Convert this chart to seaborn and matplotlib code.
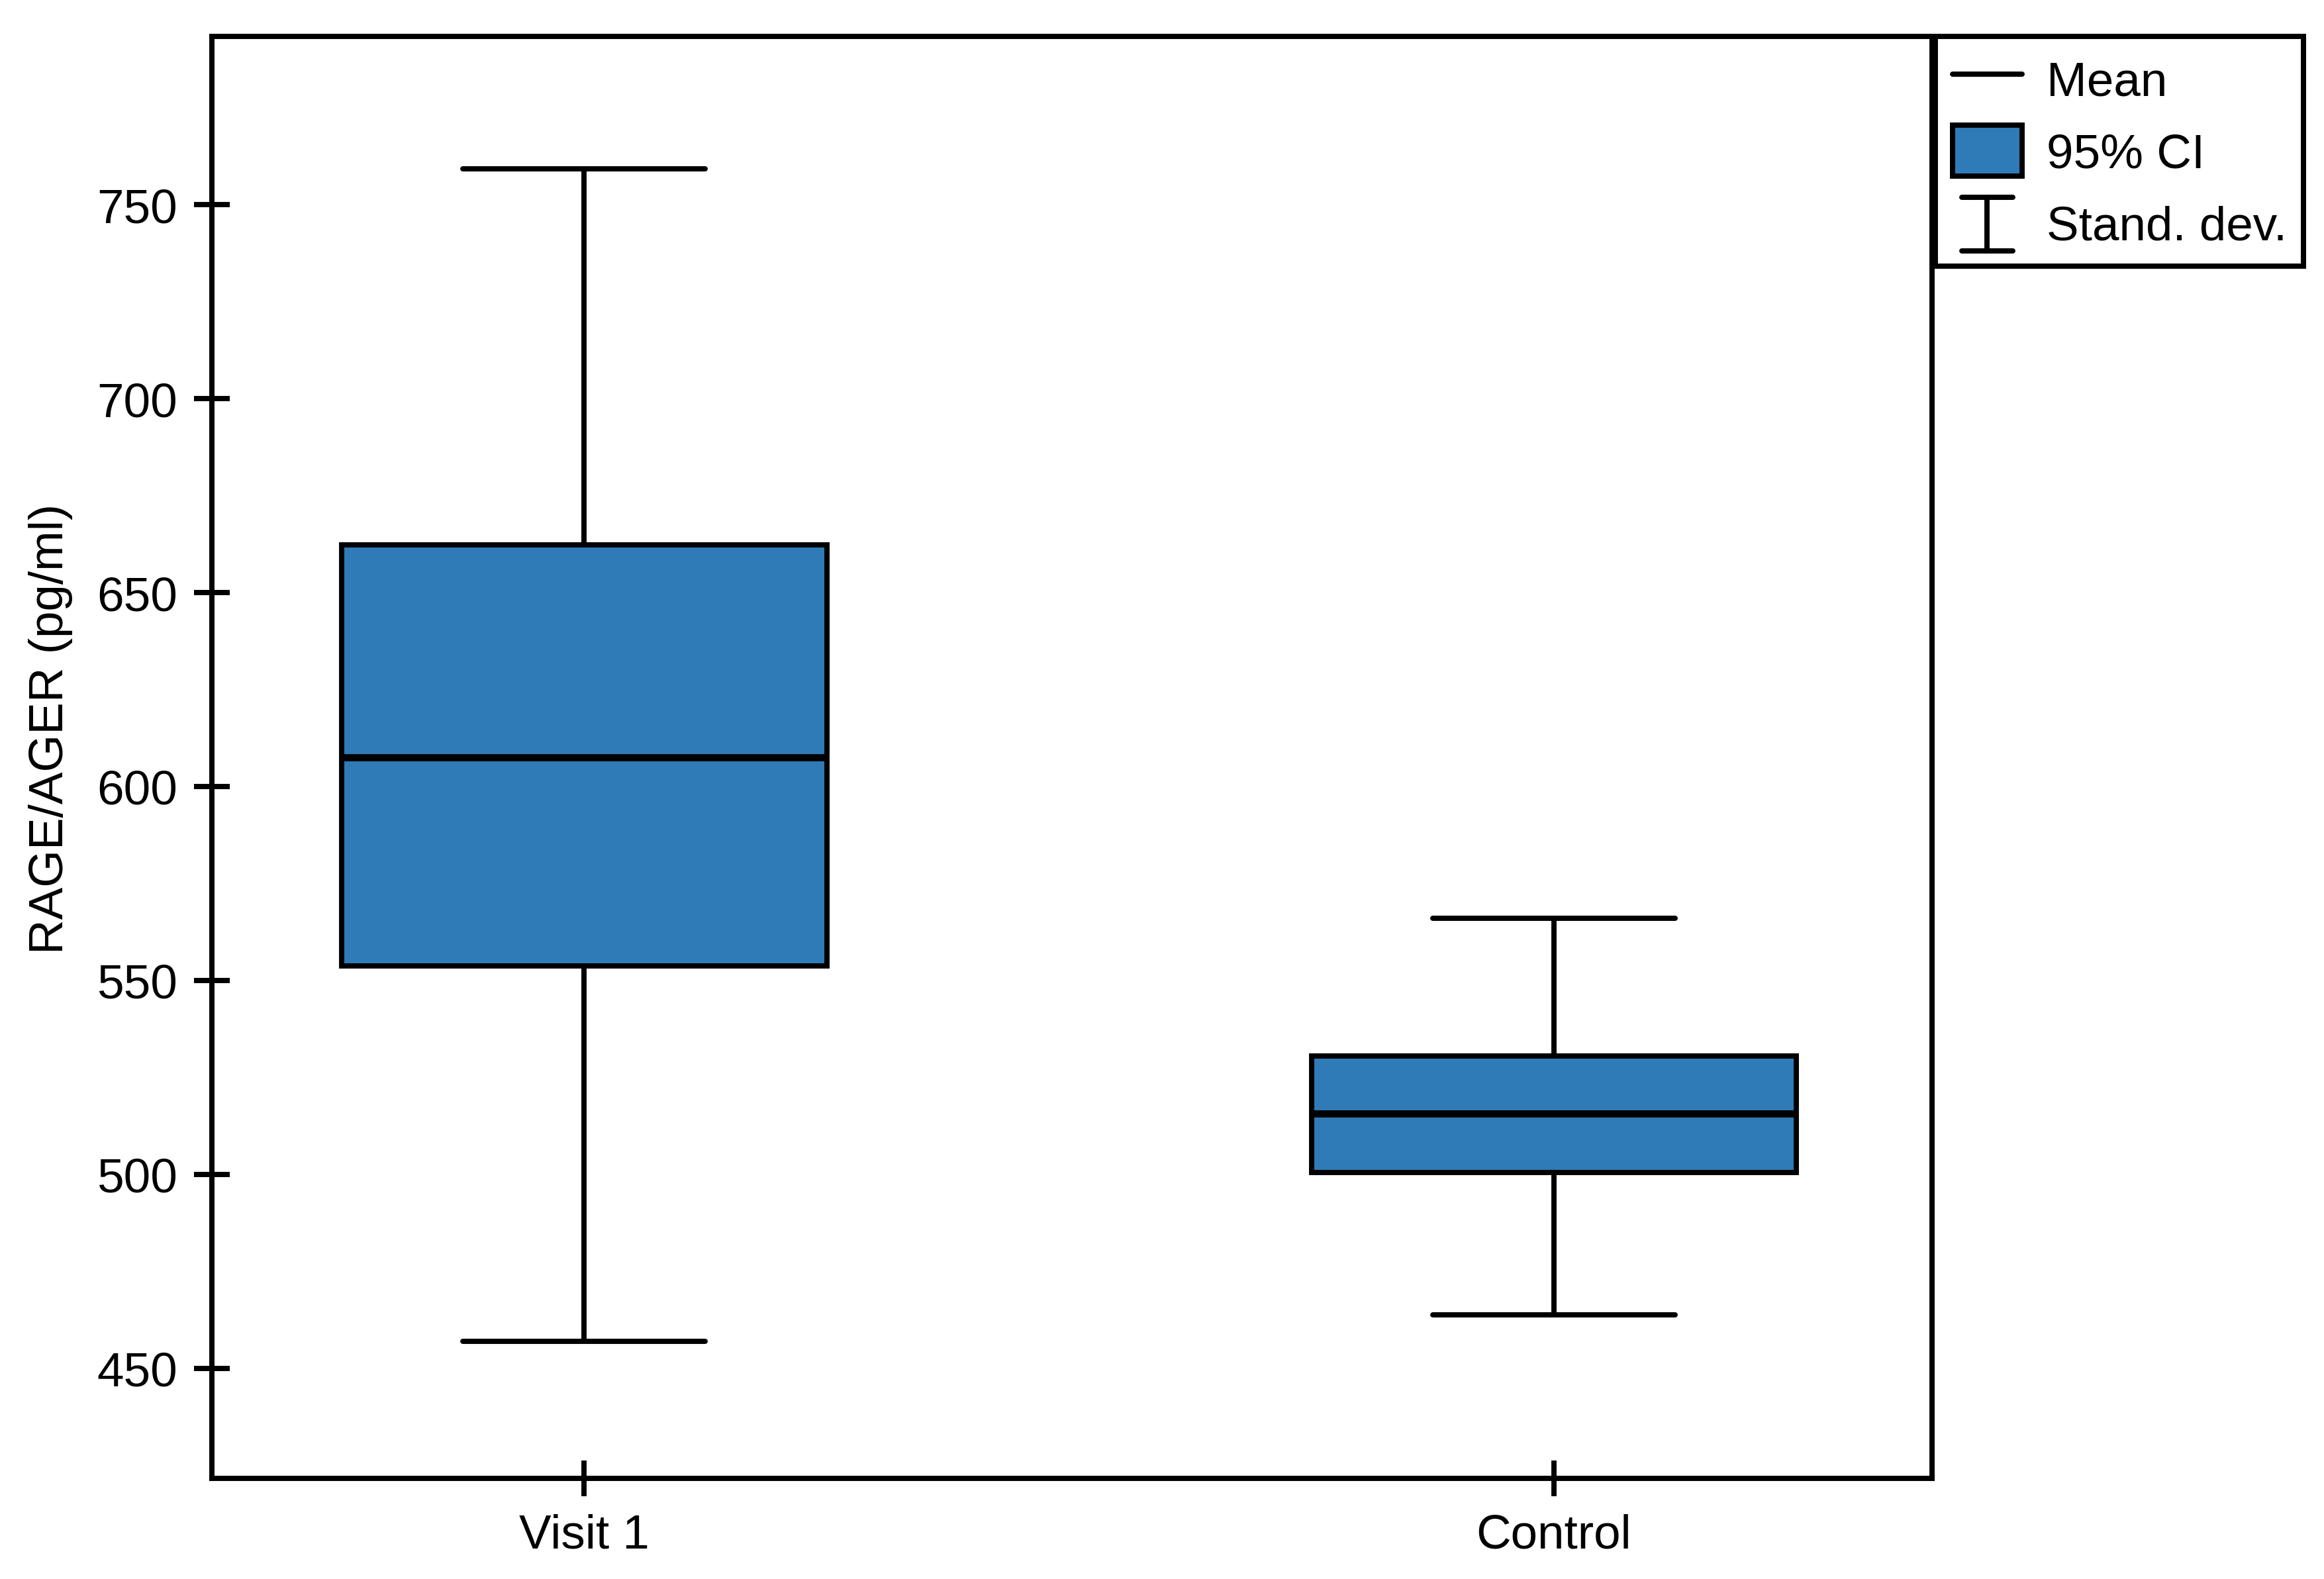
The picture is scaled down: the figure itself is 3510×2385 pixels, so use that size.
import numpy as np
import pandas as pd
import matplotlib
matplotlib.use("Agg")
import matplotlib.pyplot as plt
import seaborn as sns
from matplotlib.lines import Line2D
from matplotlib.patches import Patch
from matplotlib.legend_handler import HandlerBase

# ---- data ----
groups = ["Visit 1", "Control"]
sd_low = [456.9, 463.8]      # mean - SD
ci_low = [553.7, 500.5]      # lower 95% CI
means = [607.5, 515.7]
ci_high = [662.4, 530.6]     # upper 95% CI
sd_high = [759.2, 566.0]     # mean + SD
yticks = [450, 500, 550, 600, 650, 700, 750]
ylabel = "RAGE/AGER (pg/ml)"
legend_labels = ["Mean", "95% CI", "Stand. dev."]

# Five points per group reproduce the summary exactly as a box:
# min = mean-SD, Q1 = lower CI, median = mean, Q3 = upper CI, max = mean+SD
rows = []
for g, a, b, c, d, e in zip(groups, sd_low, ci_low, means, ci_high, sd_high):
    for v in (a, b, c, d, e):
        rows.append({"group": g, "value": v})
df = pd.DataFrame(rows)

fill = "#2E7BB8"
lw = 1.9
fs = 17.5

sns.set_theme(style="white")
plt.rcParams["font.family"] = ["Liberation Sans", "DejaVu Sans"]

fig = plt.figure(figsize=(11.7, 7.953), dpi=300)
ax = fig.add_axes([0.0912, 0.0637, 0.8313 - 0.0912, 0.9765 - 0.0637])

sns.boxplot(data=df, x="group", y="value", order=groups, whis=(0, 100),
            width=0.5, color=fill, saturation=1, linecolor="black",
            linewidth=lw, medianprops={"linewidth": 2.6, "color": "black"},
            showfliers=False, ax=ax)

ax.set_xlim(-0.384, 1.39)
ax.set_ylim(421.6, 793.4)
ax.set_yticks(yticks)
ax.set_yticklabels([str(t) for t in yticks])
ax.set_xlabel("")
ax.set_ylabel(ylabel, fontsize=fs, color="black")
ax.yaxis.set_label_coords(-0.081, 0.52)
ax.tick_params(axis="both", direction="inout", length=13, width=lw,
               labelsize=fs, colors="black", labelcolor="black",
               left=True, bottom=True, top=False, right=False, pad=6)
for s in ax.spines.values():
    s.set_visible(True)
    s.set_color("black")
    s.set_linewidth(lw)
ax.grid(False)


class SDHandler(HandlerBase):
    def create_artists(self, legend, orig_handle, xdescent, ydescent,
                       width, height, fontsize, trans):
        cx = width / 2 - xdescent
        w = width * 0.36
        y0 = -ydescent - height * 0.05
        y1 = -ydescent + height * 1.0
        arts = [
            Line2D([cx, cx], [y0, y1], color="black", lw=lw),
            Line2D([cx - w, cx + w], [y0, y0], color="black", lw=lw),
            Line2D([cx - w, cx + w], [y1, y1], color="black", lw=lw),
        ]
        for a in arts:
            a.set_transform(trans)
        return arts


class SDKey:
    pass


handles = [Line2D([], [], color="black", lw=lw),
           Patch(facecolor=fill, edgecolor="black", linewidth=lw),
           SDKey()]
leg = ax.legend(handles, legend_labels, loc="upper left",
                bbox_to_anchor=(1.002, 1.0), borderaxespad=0.0,
                fontsize=fs, handlelength=1.45, handleheight=1.25,
                handletextpad=0.5, labelspacing=0.42, borderpad=0.35,
                fancybox=False, framealpha=1, edgecolor="black",
                handler_map={SDKey: SDHandler()})
leg.get_frame().set_linewidth(lw)
for t in leg.get_texts():
    t.set_color("black")

fig.savefig("out.png", dpi=300, facecolor="white")
